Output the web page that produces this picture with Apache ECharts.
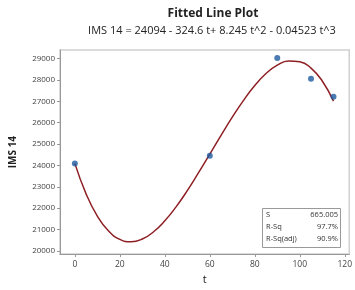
<!DOCTYPE html>
<html>
<head>
<meta charset="utf-8">
<script src="https://cdn.jsdelivr.net/npm/echarts@6/dist/echarts.min.js"></script>
<style>
  html, body { margin: 0; padding: 0; background: #fff; }
  #main-chart { width: 355px; height: 290px; }
</style>
</head>
<body>
<div id="main-chart"></div>
<script>
// observed points
const obsT = [0, 60, 90, 105, 115];
const obsY = [24090, 24450, 29030, 28050, 27210];

// fitted curve
const fitT = [0, 5, 10, 15, 20, 25, 30, 35, 40, 45, 50, 55, 60, 65, 70, 75, 80, 85, 90, 95, 100, 105, 110, 115];
const fitY = [24094, 22670, 21630, 20930, 20540, 20425, 20555, 20895, 21410, 22060, 22820, 23660, 24530, 25410, 26260, 27045, 27735, 28300, 28690, 28890, 28855, 28555, 27950, 27010];

const xTicks = [0, 20, 40, 60, 80, 100, 120];
const yTicks = [20000, 21000, 22000, 23000, 24000, 25000, 26000, 27000, 28000, 29000];

const statRows = [['S', '665.005'], ['R-Sq', '97.7%'], ['R-Sq(adj)', '90.9%']];

const font = '"Open Sans", "Liberation Sans", sans-serif';

const chartDom = document.getElementById('main-chart');
const myChart = echarts.init(chartDom);

const statText = [];
statRows.forEach((r, i) => {
    statText.push({
        type: 'text', left: 266, top: 211 + i * 12,
        style: { text: r[0], fontSize: 7.5, fontFamily: font, fill: '#333' }
    });
    statText.push({
        type: 'text', right: 17, top: 211 + i * 12,
        style: { text: r[1], fontSize: 7.5, fontFamily: font, fill: '#333', align: 'right' }
    });
});

const option = {
    animation: false,
    title: [{
        text: 'Fitted Line Plot',
        left: 208, top: 3, textAlign: 'center',
        textStyle: { fontSize: 12, fontWeight: 'bold', fontFamily: font, color: '#222' }
    }, {
        text: 'IMS 14 = 24094 - 324.6 t+ 8.245 t^2 - 0.04523 t^3',
        left: 207, top: 20, textAlign: 'center',
        textStyle: { fontSize: 11, fontWeight: 'normal', fontFamily: font, color: '#222' }
    }],
    grid: { left: 57, right: 3, top: 50, bottom: 32, show: true, borderColor: '#d0d0d0', borderWidth: 1.5 },
    xAxis: {
        type: 'value', min: -6.6, max: 122,
        name: 't', nameLocation: 'middle', nameGap: 18,
        nameTextStyle: { fontSize: 11, fontFamily: font, color: '#222' },
        axisLine: { show: true, onZero: false, lineStyle: { color: '#999' } },
        axisTick: { show: true, length: 3, customValues: xTicks, lineStyle: { color: '#999' } },
        axisLabel: { customValues: xTicks, fontSize: 8.5, fontFamily: font, color: '#444', margin: 6 },
        splitLine: { show: false }
    },
    yAxis: {
        type: 'value', min: 19850, max: 29400,
        name: 'IMS 14', nameLocation: 'middle', nameGap: 42,
        nameTextStyle: { fontSize: 10, fontWeight: 'bold', fontFamily: font, color: '#222' },
        axisLine: { show: true, onZero: false, lineStyle: { color: '#999' } },
        axisTick: { show: true, length: 3, customValues: yTicks, lineStyle: { color: '#999' } },
        axisLabel: { customValues: yTicks, formatter: (v) => String(v), fontSize: 8, fontFamily: font, color: '#444', margin: 5 },
        splitLine: { show: false }
    },
    series: [{
        type: 'line',
        data: fitT.map((t, i) => [t, fitY[i]]),
        smooth: true, showSymbol: false,
        lineStyle: { color: '#8e1f24', width: 1.5 },
        z: 2
    }, {
        type: 'scatter',
        data: obsT.map((t, i) => [t, obsY[i]]),
        symbolSize: 6,
        itemStyle: { color: '#1e5aa0' },
        z: 3
    }],
    graphic: [{
        type: 'rect', left: 262, top: 208,
        shape: { width: 78, height: 39 },
        style: { fill: '#fff', stroke: '#999', lineWidth: 1 }
    }].concat(statText)
};

myChart.setOption(option);
</script>
</body>
</html>
